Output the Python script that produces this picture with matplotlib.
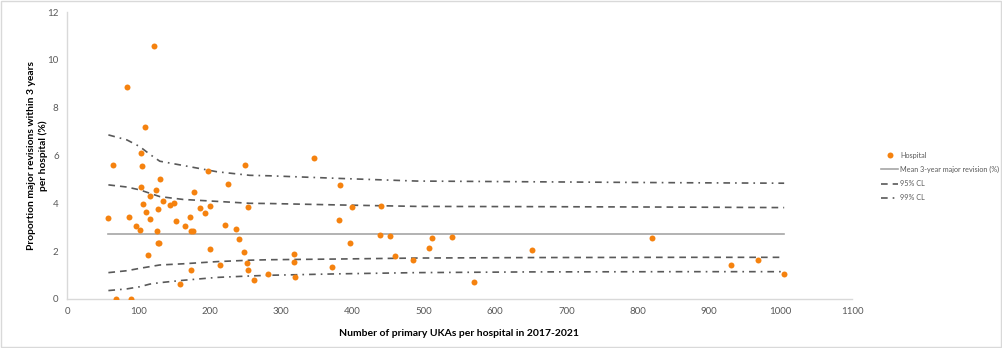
import matplotlib
matplotlib.use("Agg")
import matplotlib.pyplot as plt
from matplotlib.patches import Rectangle

plt.rcParams['font.family'] = ['Lato', 'DejaVu Sans']

# Hospitals: number of primary UKAs (2017-2021) and 3-year major revision proportion (%)
hosp_n = [58, 64, 68, 84, 87, 89, 96, 102, 104, 104, 105, 106, 110, 111, 113,
          116, 117, 122, 125, 126, 127, 127, 129, 130, 134, 145, 150, 153, 158,
          166, 172, 174, 174, 177, 178, 187, 194, 198, 200, 201, 214, 222, 226,
          237, 241, 248, 250, 252, 253, 254, 262, 282, 318, 318, 320, 346, 371,
          382, 381, 396, 399, 439, 440, 453, 459, 485, 507, 511, 539, 571, 652,
          820, 931, 968, 1005]
hosp_rev = [3.37, 5.62, 0.0, 8.85, 3.44, 0.0, 3.07, 2.87, 6.12, 4.68, 5.56,
            3.97, 7.19, 3.64, 1.84, 3.33, 4.29, 10.59, 4.57, 2.84, 3.75, 2.36,
            2.33, 5.02, 4.08, 3.93, 4.03, 3.26, 0.61, 3.07, 3.44, 1.20, 2.84,
            2.84, 4.49, 3.79, 3.58, 5.35, 3.87, 2.09, 1.41, 3.09, 4.81, 2.93,
            2.52, 1.95, 5.62, 1.50, 1.21, 3.85, 0.81, 1.03, 1.89, 1.56, 0.92,
            5.91, 1.32, 4.77, 3.32, 2.33, 3.85, 2.66, 3.87, 2.63, 1.81, 1.64,
            2.12, 2.55, 2.59, 0.72, 2.04, 2.55, 1.41, 1.64, 1.05]

# Mean and control limits along the funnel
mean_rev = 2.70
cl_n = [58, 84, 102, 116, 130, 163, 210, 256, 284, 382, 490, 649, 859, 1005]
upper99 = [6.86, 6.65, 6.37, 6.05, 5.76, 5.58, 5.32, 5.17, 5.15, 5.04, 4.93, 4.90, 4.86, 4.84]
upper95 = [4.77, 4.68, 4.56, 4.42, 4.28, 4.16, 4.08, 4.00, 3.99, 3.93, 3.87, 3.86, 3.84, 3.82]
lower95 = [1.10, 1.18, 1.28, 1.35, 1.42, 1.47, 1.56, 1.62, 1.64, 1.67, 1.71, 1.73, 1.74, 1.74]
lower99 = [0.35, 0.42, 0.51, 0.62, 0.68, 0.78, 0.90, 0.96, 0.99, 1.05, 1.10, 1.13, 1.14, 1.14]

fig = plt.figure(figsize=(10.03, 3.48), dpi=100)
ax = fig.add_axes([0.0668, 0.141, 0.7826, 0.8245])

line_col = '#595959'
h_pts, = ax.plot(hosp_n, hosp_rev, 'o', color='#f5820f', markersize=4.3,
                 markeredgewidth=0, zorder=5, label='Hospital')
h_mean, = ax.plot([cl_n[0], cl_n[-1]], [mean_rev, mean_rev], '-', color='#a6a6a6',
                  linewidth=1.2, label='Mean 3-year major revision (%)')
h95, = ax.plot(cl_n, upper95, color=line_col, linestyle=(0, (4, 3)), linewidth=1.2,
               label='95% CL')
ax.plot(cl_n, lower95, color=line_col, linestyle=(0, (4, 3)), linewidth=1.2)
h99, = ax.plot(cl_n, upper99, color=line_col, linestyle=(0, (4, 3, 1, 3)), linewidth=1.2,
               label='99% CL')
ax.plot(cl_n, lower99, color=line_col, linestyle=(0, (4, 3, 1, 3)), linewidth=1.2)

ax.set_xlim(0, 1100)
ax.set_ylim(0, 12)
ax.set_xticks(range(0, 1101, 100))
ax.set_yticks(range(0, 13, 2))
ax.tick_params(length=0, labelsize=7, labelcolor='#595959', pad=6)

for side in ['top', 'right']:
    ax.spines[side].set_visible(False)
for side in ['left', 'bottom']:
    ax.spines[side].set_color('#d9d9d9')
    ax.spines[side].set_linewidth(1.0)

ax.set_xlabel('Number of primary UKAs per hospital in 2017-2021', fontsize=7.5,
              fontweight='bold', labelpad=9)
ax.set_ylabel('Proportion major revisions within 3 years\nper hospital (%)', fontsize=7.4,
              fontweight='bold', linespacing=1.35)
ax.yaxis.set_label_coords(-0.024, 0.5)

fig.legend(handles=[h_pts, h_mean, h95, h99], loc='upper left',
           bbox_to_anchor=(0.872, 0.583), frameon=False, fontsize=5.2,
           labelcolor='#595959', handlelength=2.4, handletextpad=0.25,
           labelspacing=1.0)

# Light chart-area border
fig.add_artist(Rectangle((0.001, 0.002), 0.997, 0.995, transform=fig.transFigure,
                         fill=False, edgecolor='#d9d9d9', linewidth=1.0))

fig.savefig('out.png', dpi=100)
